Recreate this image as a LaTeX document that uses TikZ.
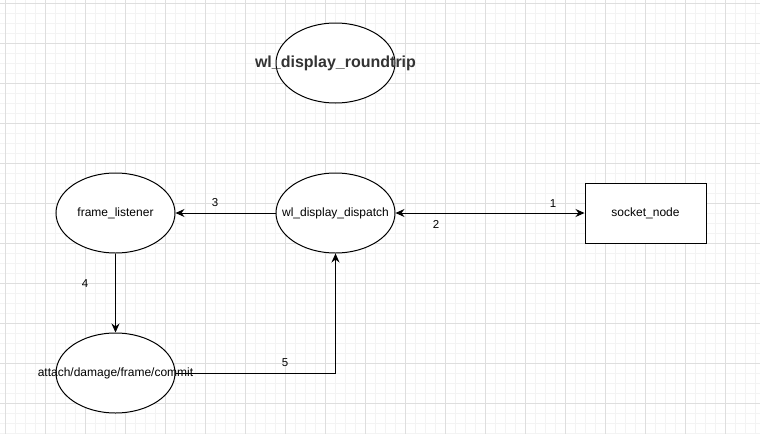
\documentclass[tikz,border=0pt]{standalone}
\usepackage{fontspec}
\setmainfont{Liberation Sans}
\usetikzlibrary{arrows.meta,shapes.geometric}
\definecolor{gridminor}{HTML}{F3F3F3}
\definecolor{gridmajor}{HTML}{DEDEDE}
\definecolor{titlegray}{HTML}{333333}
\tikzset{
  ell/.style={draw=black,line width=1pt,ellipse,minimum width=119pt,minimum height=80pt,inner sep=0pt,fill=white},
  rectnode/.style={draw=black,line width=1pt,rectangle,minimum width=121pt,minimum height=60pt,inner sep=0pt,font=\fontsize{12}{14}\selectfont,fill=white},
  txt/.style={font=\fontsize{12}{14}\selectfont,inner sep=0pt,text=black},
  tip/.tip={Stealth[length=9pt,width=8pt,inset=3pt]},
  conn/.style={line width=1pt,draw=black,-tip},
  lbl/.style={font=\fontsize{11.5}{13}\selectfont,text=black,inner sep=0pt}
}
\begin{document}
\begin{tikzpicture}[x=1pt,y=-1pt]
\useasboundingbox (0,0) rectangle (760,434);
\fill[white] (0,0) rectangle (760,434);
\foreach \x in {5,15,...,755} \draw[gridminor,line width=0.8pt] (\x,0) -- (\x,434);
\foreach \y in {3,13,...,433} \draw[gridminor,line width=0.8pt] (0,\y) -- (760,\y);
\foreach \x in {5,45,...,755} \draw[gridmajor,line width=0.8pt] (\x,0) -- (\x,434);
\foreach \y in {3,43,...,433} \draw[gridmajor,line width=0.8pt] (0,\y) -- (760,\y);

\node[ell] (title) at (335.5,63) {};
\node[txt,font=\fontsize{16}{19}\selectfont\bfseries,text=titlegray] (titletext) at (335.5,63) {wl\_display\_roundtrip};
\node[ell] (fl) at (115.5,213) {};
\node[txt] (fltext) at (115.5,213) {frame\_listener};
\node[ell] (disp) at (335.5,213) {};
\node[txt] (disptext) at (335.5,213) {wl\_display\_dispatch};
\node[rectnode] (sock) at (645.5,213) {socket\_node};
\node[ell] (att) at (115.5,373) {};

\coordinate (bend) at (335.5,373);
\draw[conn] (disp.west) -- (fl.east);
\draw[line width=1pt,tip-tip] (disp.east) -- (sock.west);
\draw[conn] (fl.south) -- (att.north);
\draw[conn] (att.east) -- (bend) -- (disp.south);
\node[txt] (atttext) at (115.5,373) {attach/damage/frame/commit};

\node[lbl] (l3) at (215,203) {3};
\node[lbl] (l1) at (553,204) {1};
\node[lbl] (l2) at (436,224) {2};
\node[lbl] (l4) at (85,284) {4};
\node[lbl] (l5) at (285,363) {5};
\end{tikzpicture}
\end{document}
